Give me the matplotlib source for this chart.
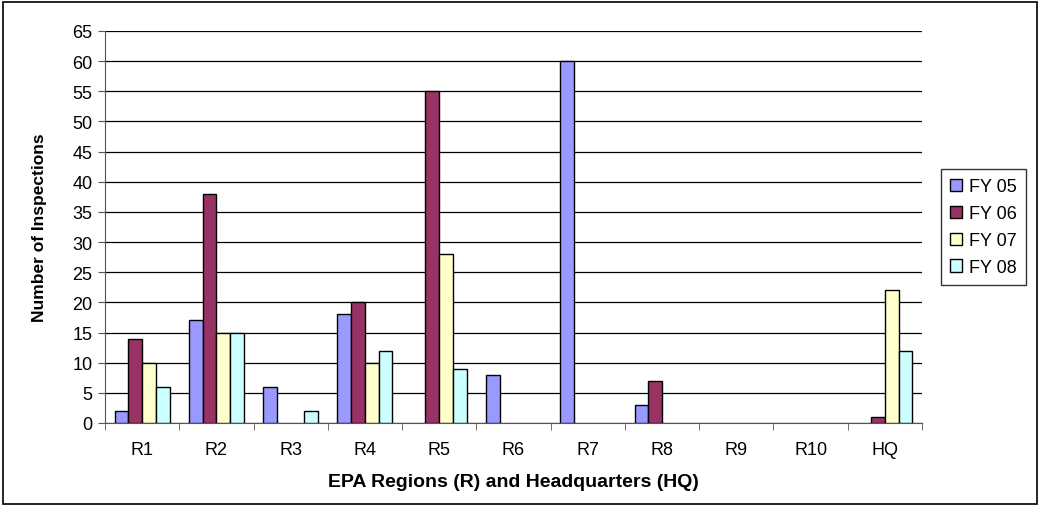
import numpy as np
import matplotlib
matplotlib.use("Agg")
import matplotlib.pyplot as plt
from matplotlib.patches import Rectangle

plt.rcParams['font.family'] = ['Liberation Sans', 'DejaVu Sans']

# data
regions = ['R1', 'R2', 'R3', 'R4', 'R5', 'R6', 'R7', 'R8', 'R9', 'R10', 'HQ']
fy05 = [2, 17, 6, 18, 0, 8, 60, 3, 0, 0, 0]
fy06 = [14, 38, 0, 20, 55, 0, 0, 7, 0, 0, 1]
fy07 = [10, 15, 0, 10, 28, 0, 0, 0, 0, 0, 22]
fy08 = [6, 15, 2, 12, 9, 0, 0, 0, 0, 0, 12]
series_names = ['FY 05', 'FY 06', 'FY 07', 'FY 08']
colors = ['#9999FF', '#993366', '#FFFFCC', '#CCFFFF']

fig = plt.figure(figsize=(10.41, 5.10), dpi=100)
ax = fig.add_axes([105 / 1041, 1 - 424 / 510, (922 - 105) / 1041, (424 - 32) / 510])

x = np.arange(len(regions))
w = 0.185
for i, (vals, name, c) in enumerate(zip([fy05, fy06, fy07, fy08], series_names, colors)):
    # empty bars get no outline, like Excel
    lw = [1.0 if v > 0 else 0 for v in vals]
    ax.bar(x + (i - 1.5) * w, vals, w, color=c, edgecolor='black', linewidth=lw,
           label=name, zorder=3)

ax.set_xlim(-0.5, len(regions) - 0.5)
ax.set_ylim(0, 65)
ax.set_yticks(np.arange(0, 66, 5))
ax.yaxis.grid(True, color='black', linewidth=0.9, zorder=0)
ax.set_axisbelow(True)

# category labels centered, ticks at boundaries
ax.set_xticks(x)
ax.set_xticklabels(regions, fontsize=13)
ax.set_xticks(np.arange(-0.5, len(regions), 1), minor=True)
ax.tick_params(axis='x', which='major', length=0, pad=13)
ax.tick_params(axis='x', which='minor', length=5, color='#555555', direction='out')
ax.tick_params(axis='y', length=5, color='#555555', labelsize=13, direction='out', pad=4)

for s in ['top', 'right']:
    ax.spines[s].set_visible(False)
ax.spines['left'].set_color('#555555')
ax.spines['bottom'].set_color('#555555')

ax.set_ylabel('Number of Inspections', fontsize=12.5, fontweight='bold', labelpad=18)
ax.set_xlabel('EPA Regions (R) and Headquarters (HQ)', fontsize=14, fontweight='bold', labelpad=11)

leg = fig.legend(loc='upper left', bbox_to_anchor=(941 / 1041, 1 - 170 / 510),
                 fontsize=13, frameon=True, fancybox=False, edgecolor='black',
                 handlelength=0.65, handleheight=0.65, handletextpad=0.4,
                 borderpad=0.5, labelspacing=0.55, borderaxespad=0)
leg.get_frame().set_linewidth(1.0)

# outer border around the chart
fig.patches.append(Rectangle((3 / 1041, 5 / 510), 1034 / 1041, 502 / 510,
                             transform=fig.transFigure, fill=False,
                             edgecolor='black', linewidth=1.2))

fig.savefig('out.png', dpi=100)
